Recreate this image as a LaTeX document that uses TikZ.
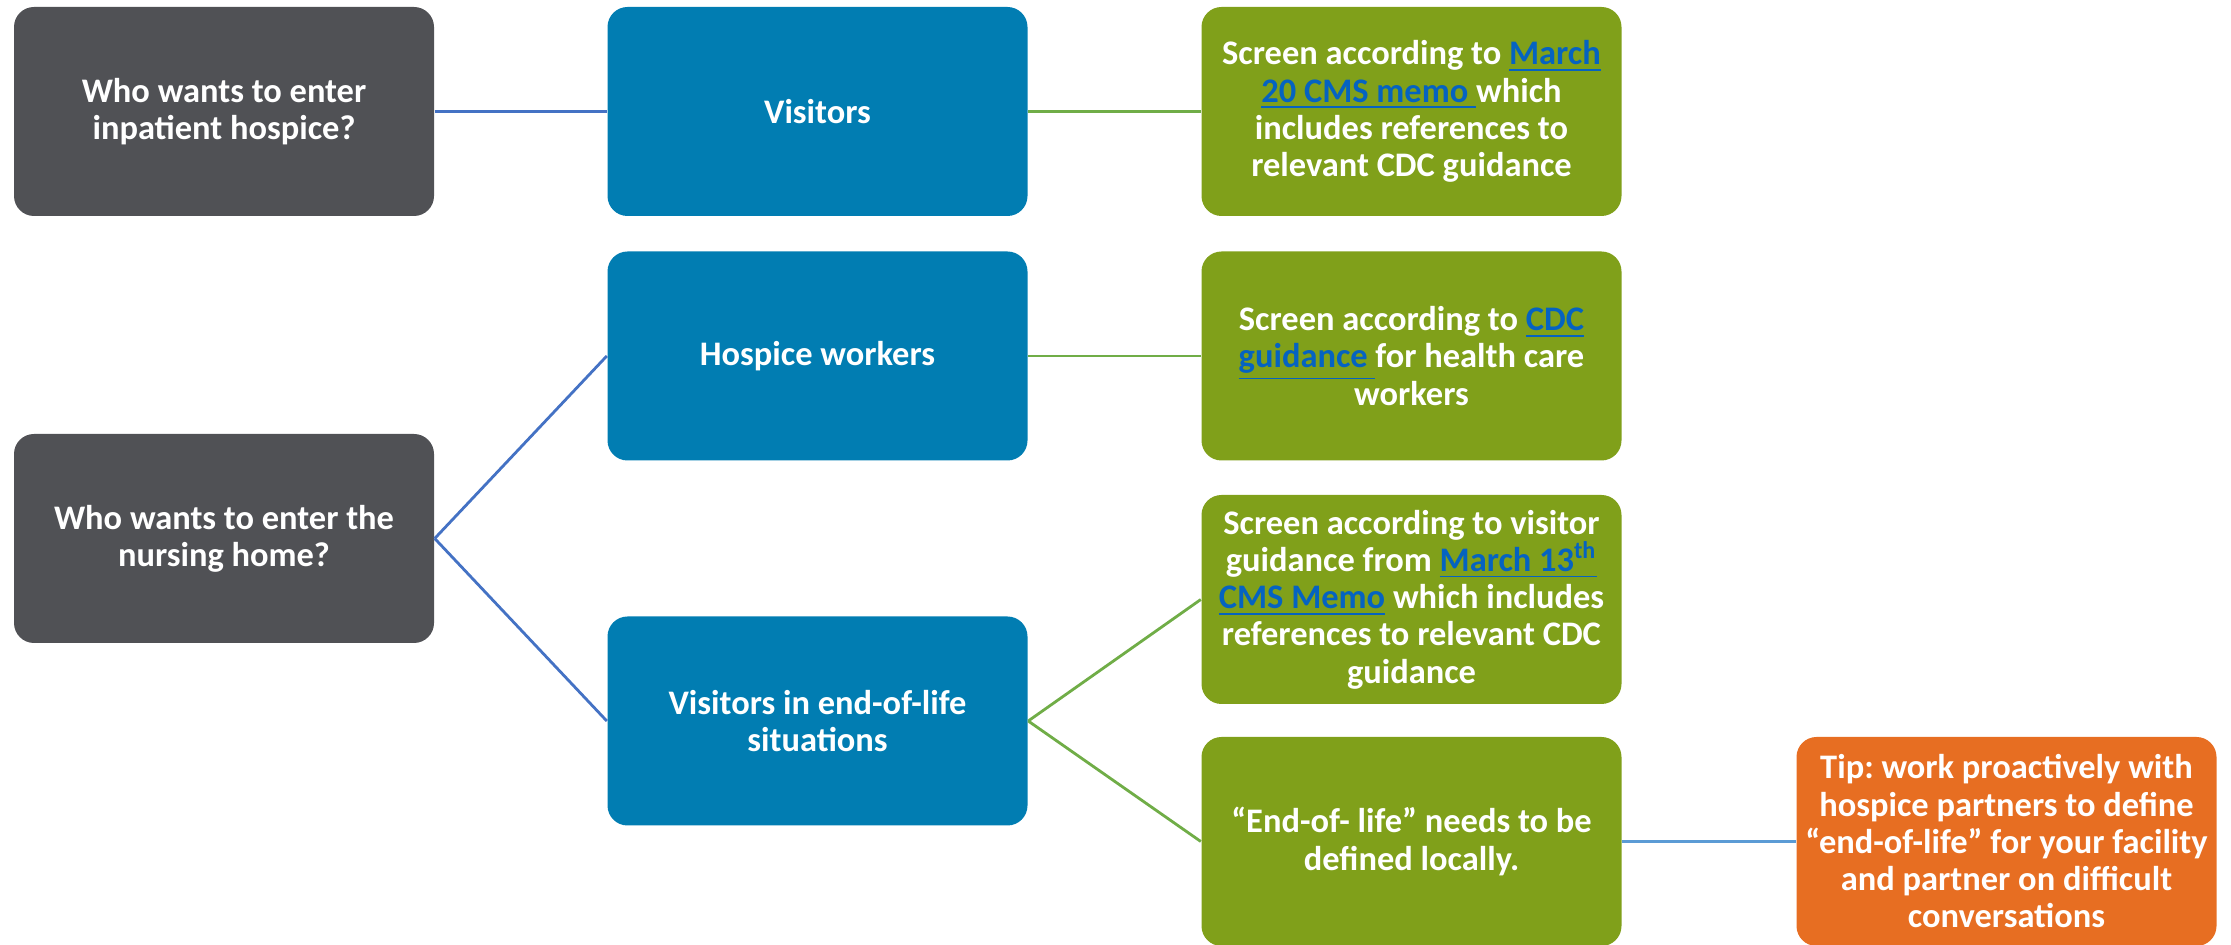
\documentclass[tikz,border=0pt]{standalone}
\usepackage{fontspec}
\setmainfont{Carlito}
\frenchspacing
\usetikzlibrary{positioning}
\definecolor{boxgray}{HTML}{505155}
\definecolor{boxblue}{HTML}{017DB2}
\definecolor{boxgreen}{HTML}{80A01A}
\definecolor{boxorange}{HTML}{E76E22}
\definecolor{linkblue}{HTML}{0563C1}
\definecolor{lineblue}{HTML}{4472C4}
\definecolor{linegreen}{HTML}{70AD47}
\definecolor{linesky}{HTML}{5B9BD5}
\newcommand{\weblink}[1]{\textcolor{linkblue}{\underline{#1}}}

\begin{document}
\begin{tikzpicture}[
			card/.style = {rectangle, rounded corners = 0.2cm, text = white, font = \fontsize{9.8}{10.6}\selectfont\bfseries, align = center, minimum width = 4.2cm, minimum height = 2.09cm, inner sep = 0pt},
			question/.style = {card, fill = boxgray},
			group/.style = {card, fill = boxblue},
			screening/.style = {card, fill = boxgreen},
			tip/.style = {card, fill = boxorange},
			bluelink/.style = {line width = 0.8pt, draw = lineblue},
			greenlink/.style = {line width = 0.8pt, draw = linegreen},
		]
		\useasboundingbox (0,0) rectangle (22.31,-9.45);

		\node[question](Hosp) at (2.24,-1.115){Who wants to enter\\inpatient hospice?};
		\node[question](Home) at (2.24,-5.385){Who wants to enter the\\nursing home?};

		\node[group](Vis) at (8.175,-1.115){Visitors};
		\node[group](Work) at (8.175,-3.56){Hospice workers};
		\node[group](EoL) at (8.175,-7.21){Visitors in end-of-life\\situations};

		\node[screening](ScrVis) at (14.115,-1.115){Screen according to \weblink{March}\\\weblink{20 CMS memo\ }which\\includes references to\\relevant CDC guidance};
		\node[screening](ScrWork) at (14.115,-3.56){Screen according to \weblink{CDC}\\\weblink{guidance\ }for health care\\workers};
		\node[screening](ScrEoL) at (14.115,-5.995){Screen according to visitor\\guidance from \weblink{March 13\textsuperscript{th}}\\\weblink{CMS Memo} which includes\\references to relevant CDC\\guidance};
		\node[screening](Local) at (14.115,-8.415){``End-of- life'' needs to be\\defined locally.};

		\node[tip](Tip) at (20.065,-8.415){Tip: work proactively with\\hospice partners to define\\``end-of-life'' for your facility\\and partner on difficult\\conversations};

		\draw[bluelink](Hosp.east)--(Vis.west);
		\draw[bluelink](Home.east)--(Work.west);
		\draw[bluelink](Home.east)--(EoL.west);
		\draw[greenlink](Vis.east)--(ScrVis.west);
		\draw[greenlink](Work.east)--(ScrWork.west);
		\draw[greenlink](EoL.east)--(ScrEoL.west);
		\draw[greenlink](EoL.east)--(Local.west);
		\draw[line width = 0.8pt, draw = linesky](Local.east)--(Tip.west);

	\end{tikzpicture}
\end{document}
